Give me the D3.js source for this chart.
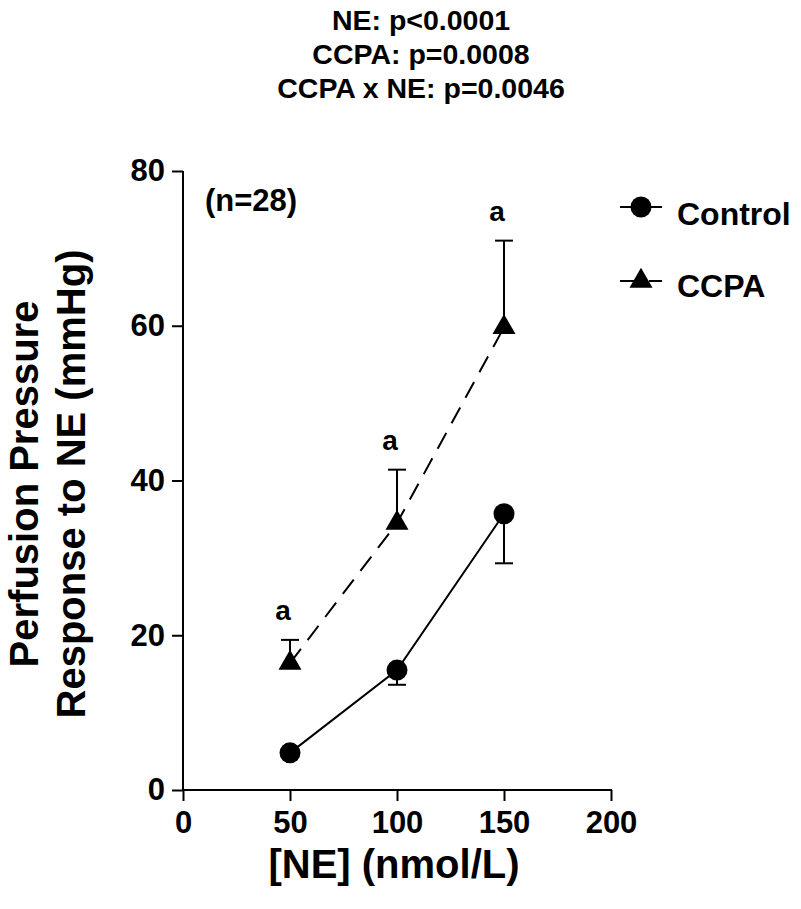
<!DOCTYPE html>
<html><head><meta charset="utf-8">
<script src="https://cdn.jsdelivr.net/npm/d3@7"></script>
<style>body{margin:0;background:#fff}text{font-family:"Liberation Sans",Arial,sans-serif;font-weight:bold;fill:#000}</style>
</head><body><svg id="c" width="801" height="909"></svg>
<script>
const doses = [50, 100, 150];
const controlMean = [4.8, 15.5, 35.7];
const controlErr = [0, -1.9, -6.4];
const ccpaMean = [16.4, 34.5, 59.8];
const ccpaErr = [3.0, 6.9, 11.2];
const xTicks = [0, 50, 100, 150, 200];
const yTicks = [0, 20, 40, 60, 80];
const titleLines = ["NE: p<0.0001", "CCPA: p=0.0008", "CCPA x NE: p=0.0046"];

const svg = d3.select("#c");
const x = d3.scaleLinear().domain([0, 200]).range([183, 611]);
const y = d3.scaleLinear().domain([0, 80]).range([790, 171]);

// title
svg.append("g").selectAll("text").data(titleLines).join("text")
  .attr("x", 421).attr("y", (d, i) => 30 + i * 34).attr("text-anchor", "middle")
  .attr("font-size", 28.5).text(d => d);

// axes
const xa = svg.append("g").attr("transform", "translate(0,790)")
  .call(d3.axisBottom(x).tickValues(xTicks).tickSize(11).tickPadding(10).tickSizeOuter(0));
const ya = svg.append("g").attr("transform", "translate(183,0)")
  .call(d3.axisLeft(y).tickValues(yTicks).tickSize(11).tickPadding(7).tickSizeOuter(0));
[xa, ya].forEach(a => {
  a.select(".domain").attr("stroke", "#000").attr("stroke-width", 2);
  a.selectAll(".tick line").attr("stroke", "#000").attr("stroke-width", 2);
  a.selectAll(".tick text").attr("font-size", 31).attr("font-family", null).attr("fill", "#000");
});
xa.select(".domain").attr("d", `M${x(0)-1},0H${x(200)+1}`);
ya.select(".domain").attr("d", `M0,${y(80)}V${y(0)+1}`);

// axis titles
svg.append("text").attr("x", 394).attr("y", 878).attr("text-anchor", "middle")
  .attr("font-size", 40).text("[NE] (nmol/L)");
svg.append("text").attr("transform", "translate(38,484) rotate(-90)").attr("text-anchor", "middle")
  .attr("font-size", 40).text("Perfusion Pressure");
svg.append("text").attr("transform", "translate(85,484) rotate(-90)").attr("text-anchor", "middle")
  .attr("font-size", 40).text("Response to NE (mmHg)");

// n label
svg.append("text").attr("x", 205).attr("y", 211).attr("font-size", 31).text("(n=28)");

const line = d3.line().x((d, i) => x(doses[i])).y(d => y(d));

function errBars(means, errs) {
  const g = svg.append("g");
  means.forEach((m, i) => {
    if (!errs[i]) return;
    const cx = x(doses[i]);
    g.append("line").attr("x1", cx).attr("x2", cx).attr("y1", y(m)).attr("y2", y(m + errs[i]))
      .attr("stroke", "#000").attr("stroke-width", 2);
    g.append("line").attr("x1", cx - 9).attr("x2", cx + 9).attr("y1", y(m + errs[i])).attr("y2", y(m + errs[i]))
      .attr("stroke", "#000").attr("stroke-width", 2);
  });
}
errBars(controlMean, controlErr);
errBars(ccpaMean, ccpaErr);

svg.append("path").attr("d", line(controlMean)).attr("fill", "none").attr("stroke", "#000").attr("stroke-width", 2);
svg.append("path").attr("d", line(ccpaMean)).attr("fill", "none").attr("stroke", "#000").attr("stroke-width", 2)
  .attr("stroke-dasharray", "18,11");

const circ = d3.symbol().type(d3.symbolCircle).size(Math.PI * 10.5 * 10.5);
const tri = d3.symbol().type(d3.symbolTriangle).size(230);
svg.append("g").selectAll("path").data(controlMean).join("path")
  .attr("d", circ).attr("transform", (d, i) => `translate(${x(doses[i])},${y(d)})`).attr("fill", "#000");
svg.append("g").selectAll("path").data(ccpaMean).join("path")
  .attr("d", tri).attr("transform", (d, i) => `translate(${x(doses[i])},${y(d)})`).attr("fill", "#000");

// significance letters
const sigIdx = [0, 1, 2];
svg.append("g").selectAll("text").data(sigIdx).join("text")
  .attr("x", i => x(doses[i]) - 7).attr("y", i => y(ccpaMean[i] + ccpaErr[i]) - 20)
  .attr("text-anchor", "middle").attr("font-size", 28).text("a");

// legend
const lg = svg.append("g");
lg.append("line").attr("x1", 620).attr("x2", 662).attr("y1", 207).attr("y2", 207).attr("stroke", "#000").attr("stroke-width", 2);
lg.append("path").attr("d", circ).attr("transform", "translate(641,207)");
lg.append("text").attr("x", 677).attr("y", 225).attr("font-size", 32).text("Control");
lg.append("line").attr("x1", 620).attr("x2", 662).attr("y1", 281).attr("y2", 281).attr("stroke", "#000").attr("stroke-width", 2)
  .attr("stroke-dasharray", "18,11");
lg.append("path").attr("d", tri).attr("transform", "translate(641,281)");
lg.append("text").attr("x", 677).attr("y", 297).attr("font-size", 32).text("CCPA");
</script></body></html>
